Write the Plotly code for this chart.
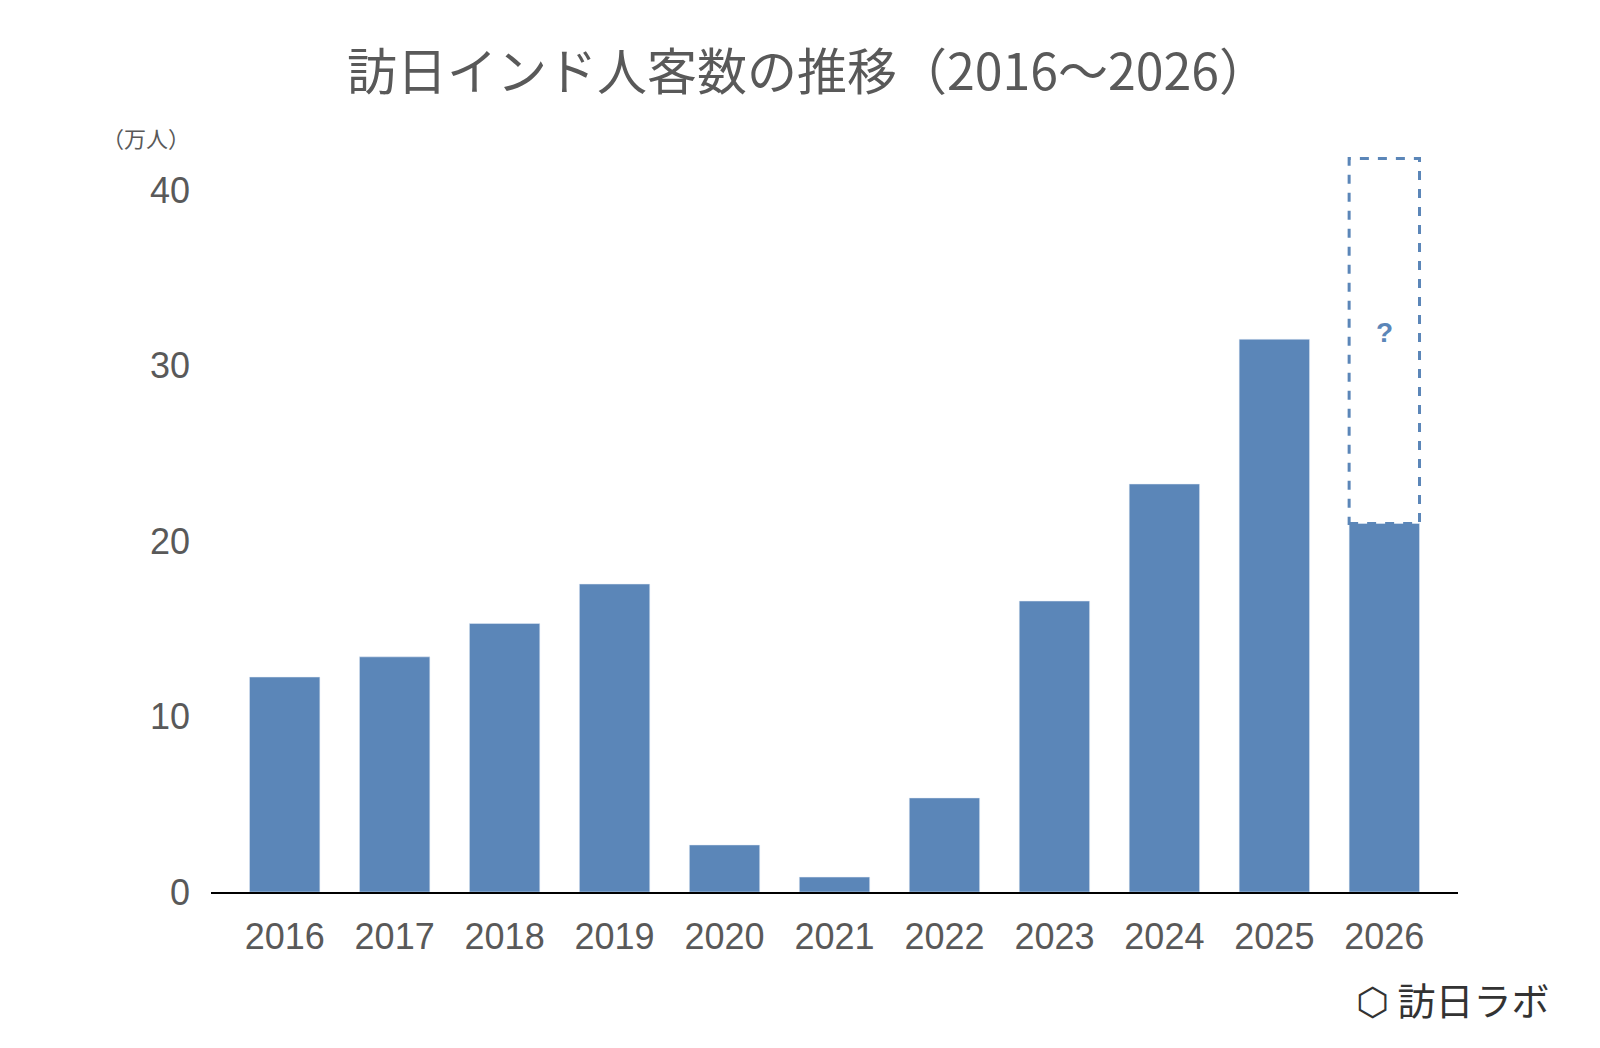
import plotly.graph_objects as go

years = ["2016", "2017", "2018", "2019", "2020", "2021", "2022", "2023", "2024", "2025", "2026"]
visitors = [12.25, 13.4, 15.3, 17.55, 2.68, 0.85, 5.36, 16.58, 23.25, 31.5, 21.0]
forecast_year = "2026"
forecast_low = 21.0
forecast_high = 41.8

blue = "#5b86b8"
grey = "#595959"
font = "Noto Sans CJK JP"

xpos = list(range(len(years)))
fig = go.Figure(go.Bar(x=xpos, y=visitors, marker_color=blue, width=0.64))

# dashed box for the unknown part of 2026
idx = years.index(forecast_year)
fig.add_shape(type="rect", x0=idx - 0.32, x1=idx + 0.32, y0=forecast_low, y1=forecast_high,
              line=dict(color=blue, width=3, dash="dash"), fillcolor="rgba(0,0,0,0)")
fig.add_annotation(x=idx, y=(forecast_low + forecast_high) / 2 + 0.5, text="<b>?</b>",
                   showarrow=False, font=dict(size=28, color=blue, family="Liberation Sans"))

fig.update_layout(
    width=1600, height=1048,
    plot_bgcolor="white", paper_bgcolor="white",
    margin=dict(l=203, r=150, t=147, b=164),
    title=dict(text="訪日インド人客数の推移（2016～2026）", x=0.5, xanchor="center", y=0.955,
               font=dict(size=50, color=grey, family=font)),
    showlegend=False,
    font=dict(family=font, color=grey),
)
fig.update_xaxes(range=[-0.67, 10.67], tickvals=xpos, ticktext=years, showgrid=False, zeroline=False,
                 showline=True, linecolor="black", linewidth=2, ticks="",
                 tickfont=dict(size=36, color=grey, family="Liberation Sans"), ticklabelstandoff=12)
fig.update_yaxes(range=[0, 42], tickvals=[0, 10, 20, 30, 40], showgrid=False, zeroline=False,
                 tickfont=dict(size=36, color=grey, family="Liberation Sans"), ticklabelstandoff=20)

fig.add_annotation(xref="paper", yref="paper", x=-0.015, y=1.0, xanchor="right", yanchor="bottom",
                   text="（万人）", showarrow=False, font=dict(size=22, color=grey, family=font))
fig.add_annotation(xref="paper", yref="paper", x=1.075, y=-0.145, xanchor="right", yanchor="middle",
                   text="⬡ 訪日ラボ", showarrow=False, font=dict(size=38, color="#333333", family=font))

fig.write_html("out.html")
